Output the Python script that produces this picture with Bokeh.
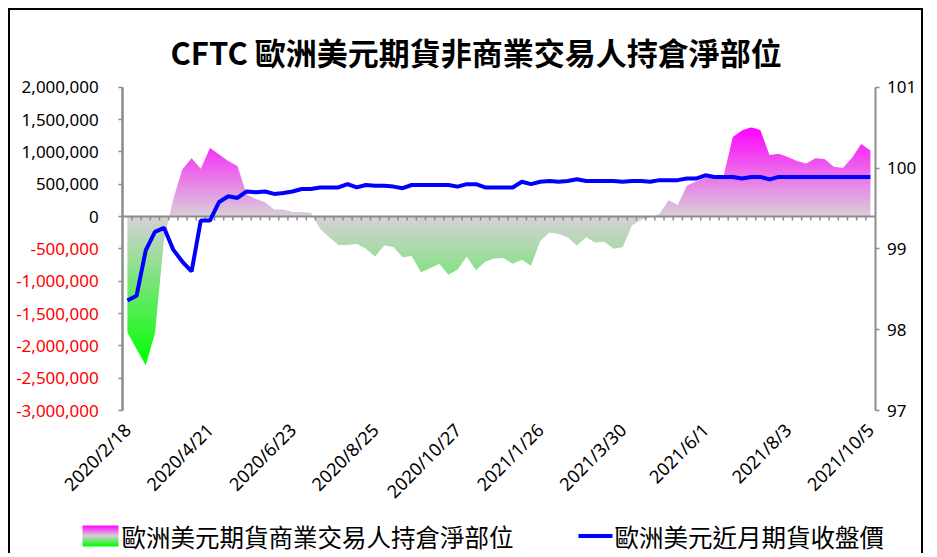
import numpy as np
from bokeh.plotting import figure
from bokeh.models import (Range1d, LinearAxis, FixedTicker, CustomJSTickFormatter)
from bokeh.core.properties import value
from bokeh.embed import file_html
from bokeh.resources import INLINE

# ---------------- data ----------------
title_text = "CFTC 歐洲美元期貨非商業交易人持倉淨部位"
area_name = "歐洲美元期貨商業交易人持倉淨部位"
line_name = "歐洲美元近月期貨收盤價"

dates = [
    "2020/2/18", "2020/2/25", "2020/3/3", "2020/3/10", "2020/3/17", "2020/3/24", "2020/3/31",
    "2020/4/7", "2020/4/14", "2020/4/21", "2020/4/28", "2020/5/5", "2020/5/12", "2020/5/19",
    "2020/5/26", "2020/6/2", "2020/6/9", "2020/6/16", "2020/6/23", "2020/6/30", "2020/7/7",
    "2020/7/14", "2020/7/21", "2020/7/28", "2020/8/4", "2020/8/11", "2020/8/18", "2020/8/25",
    "2020/9/1", "2020/9/8", "2020/9/15", "2020/9/22", "2020/9/29", "2020/10/6", "2020/10/13",
    "2020/10/20", "2020/10/27", "2020/11/10", "2020/11/17", "2020/12/1", "2020/12/8",
    "2020/12/15", "2021/1/5", "2021/1/12", "2021/1/19", "2021/1/26", "2021/2/2", "2021/2/9",
    "2021/2/16", "2021/2/23", "2021/3/2", "2021/3/9", "2021/3/16", "2021/3/23", "2021/3/30",
    "2021/4/6", "2021/4/13", "2021/4/20", "2021/4/27", "2021/5/4", "2021/5/11", "2021/5/18",
    "2021/5/25", "2021/6/1", "2021/6/8", "2021/6/15", "2021/6/22", "2021/6/29", "2021/7/6",
    "2021/7/13", "2021/7/20", "2021/7/27", "2021/8/3", "2021/8/10", "2021/8/17", "2021/8/24",
    "2021/8/31", "2021/9/7", "2021/9/14", "2021/9/21", "2021/9/28", "2021/10/5",
]

net_position = [
    -1790000, -2050000, -2300000, -1810000, -350000, 270000, 730000, 900000, 740000, 1060000,
    960000, 860000, 780000, 340000, 270000, 220000, 110000, 110000, 70000, 70000,
    60000, -190000, -320000, -440000, -440000, -420000, -500000, -620000, -450000, -470000,
    -630000, -610000, -860000, -800000, -730000, -900000, -820000, -620000, -830000, -700000,
    -650000, -640000, -730000, -670000, -760000, -380000, -250000, -270000, -320000, -450000,
    -320000, -400000, -390000, -500000, -470000, -140000, -50000, -10000, 40000, 250000,
    180000, 480000, 540000, 600000, 620000, 630000, 1230000, 1330000, 1380000, 1340000,
    950000, 970000, 920000, 860000, 820000, 900000, 890000, 770000, 750000, 910000,
    1120000, 1020000,
]

close_price = [
    98.36, 98.42, 98.98, 99.21, 99.26, 98.99, 98.84, 98.72, 99.35, 99.35,
    99.58, 99.65, 99.63, 99.71, 99.70, 99.71, 99.68, 99.69, 99.71, 99.74,
    99.74, 99.76, 99.76, 99.76, 99.80, 99.76, 99.79, 99.78, 99.78, 99.77,
    99.75, 99.79, 99.79, 99.79, 99.79, 99.79, 99.77, 99.80, 99.80, 99.76,
    99.76, 99.76, 99.76, 99.83, 99.80, 99.83, 99.84, 99.83, 99.84, 99.86,
    99.84, 99.84, 99.84, 99.84, 99.83, 99.84, 99.84, 99.83, 99.85, 99.85,
    99.85, 99.87, 99.87, 99.91, 99.89, 99.89, 99.89, 99.87, 99.89, 99.89,
    99.86, 99.89, 99.89, 99.89, 99.89, 99.89, 99.89, 99.89, 99.89, 99.89,
    99.89, 99.89,
]

left_ticks = [-3000000, -2500000, -2000000, -1500000, -1000000, -500000, 0,
              500000, 1000000, 1500000, 2000000]
right_ticks = [97, 98, 99, 100, 101]
label_step = 9

# ---------------- styling / geometry ----------------
FONT = "Noto Sans CJK TC"
TICK_FONT = "Noto Sans"
TICK_SIZE = "17px"
DATE_SIZE = "18px"
AXIS_GREY = "#8c8c8c"
MAGENTA = (255, 0, 255)
MID = (217, 208, 217)
GREEN = (0, 255, 0)
W, H = 915, 545                                     # canvas size (inside the css border)
FR_L, FR_R, FR_T, FR_B = 112.3, 864.5, 76.7, 400.0  # plotting-area box on the canvas (px)


def grad_color(t):
    """t = 1 -> magenta, 0 -> mid grey, -1 -> green"""
    if t >= 0:
        return [MID[k] + (MAGENTA[k] - MID[k]) * t for k in range(3)]
    return [MID[k] + (GREEN[k] - MID[k]) * (-t) for k in range(3)]


def rgba_column(ts, width=4):
    arr = np.zeros((len(ts), width, 4), dtype=np.uint8)
    for r, t in enumerate(ts):
        c = grad_color(t)
        arr[r, :, 0] = int(round(c[0]))
        arr[r, :, 1] = int(round(c[1]))
        arr[r, :, 2] = int(round(c[2]))
        arr[r, :, 3] = 255
    return arr.view(dtype=np.uint32).reshape((len(ts), width))


def extend(lo, hi, px_lo, px_hi, px_total_lo, px_total_hi):
    """data range whose [lo, hi] lands on [px_lo, px_hi] of a canvas spanning px_total."""
    k = (hi - lo) / (px_hi - px_lo)
    return lo - (px_lo - px_total_lo) * k, hi + (px_total_hi - px_hi) * k


n = len(dates)
x = np.arange(n)
d = np.array(net_position, dtype=float)

xr = extend(-0.5, n - 0.5, FR_L, FR_R, 0, W)
yr = extend(left_ticks[0], left_ticks[-1], H - FR_B, H - FR_T, 0, H)
pr = extend(right_ticks[0], right_ticks[-1], H - FR_B, H - FR_T, 0, H)

p = figure(width=W, height=H, output_backend="svg", toolbar_location=None,
           x_range=Range1d(*xr), y_range=Range1d(*yr),
           x_axis_location=None, y_axis_location=None,
           min_border=0, min_border_left=0, min_border_right=0,
           min_border_top=0, min_border_bottom=0,
           styles={"margin-left": "8px", "margin-top": "8px",
                   "border-left": "2px solid black", "border-top": "2px solid black",
                   "border-right": "2px solid black"})
p.title.visible = False
p.extra_y_ranges = {"price": Range1d(*pr), "px_y": Range1d(0, H)}
p.extra_x_ranges = {"px_x": Range1d(0, W)}
p.outline_line_color = None
p.grid.visible = False

# ---- gradient-filled area: gradient image masked by white areas ----
dmin, dmax = d.min(), d.max()
vals = np.linspace(dmin, dmax, 600)
ts = [v / dmax if v >= 0 else -(v / dmin) for v in vals]
p.image_rgba(image=[rgba_column(ts)], x=0, y=dmin, dw=n - 1, dh=dmax - dmin)

# outline of the area with exact zero crossings; masks reach a little past both ends
xs, ds = [x[0] - 0.5], [d[0]]
for i in range(n - 1):
    xs.append(x[i]); ds.append(d[i])
    if d[i] * d[i + 1] < 0:
        xs.append(x[i] + d[i] / (d[i] - d[i + 1])); ds.append(0.0)
xs.append(x[-1]); ds.append(d[-1])
xs.append(x[-1] + 0.5); ds.append(d[-1])
xs = np.array(xs); ds = np.array(ds)
m = len(xs)
p.varea(x=xs, y1=np.maximum(ds, 0), y2=np.full(m, left_ticks[-1]), fill_color="white")
p.varea(x=xs, y1=np.full(m, left_ticks[0]), y2=np.minimum(ds, 0), fill_color="white")

# zero axis line with category tick marks
p.segment(x0=[-0.5], y0=[0], x1=[n - 0.5], y1=[0], line_color=AXIS_GREY, line_width=2)
tick_len = (left_ticks[-1] - left_ticks[0]) / (FR_B - FR_T) * 4
bx = x[1:] - 0.5
p.segment(x0=bx, y0=np.zeros(len(bx)), x1=bx, y1=np.full(len(bx), -tick_len),
          line_color=AXIS_GREY, line_width=1.5)

# price line
p.line(x, close_price, y_range_name="price", line_color="#0000ff", line_width=4)

# ---- title ----
p.text(x=[160], y=[H - 41], text=[title_text], x_range_name="px_x", y_range_name="px_y",
       text_font=value(FONT), text_font_size="31px", text_font_style="bold",
       text_align="left", text_baseline="middle", text_color="#000000")

# ---- axes (pinned to the plotting-area edges) ----
def style_axis(ax, color="black", standoff=20, line=True, ticks=True, size=TICK_SIZE):
    ax.axis_line_color = AXIS_GREY if line else None
    ax.axis_line_width = 2
    ax.major_tick_line_color = AXIS_GREY if ticks else None
    ax.major_tick_line_width = 1.5
    ax.major_tick_out = 4
    ax.major_tick_in = 0
    ax.minor_tick_line_color = None
    ax.major_label_text_font = TICK_FONT
    ax.major_label_text_font_size = size
    ax.major_label_text_color = color
    ax.major_label_standoff = standoff


fmt = CustomJSTickFormatter(code="return tick.toLocaleString('en-US');")

xa = LinearAxis(fixed_location=left_ticks[0], ticker=FixedTicker(ticks=list(range(0, n, label_step))))
xa.major_label_overrides = {i: dates[i] for i in range(0, n, label_step)}
xa.major_label_orientation = np.pi / 4
style_axis(xa, standoff=12, line=False, ticks=False, size=DATE_SIZE)
p.add_layout(xa, "below")

ya_pos = LinearAxis(fixed_location=-0.5, bounds=(left_ticks[0], left_ticks[-1]),
                    ticker=FixedTicker(ticks=[v for v in left_ticks if v >= 0]), formatter=fmt)
style_axis(ya_pos, color="black")
p.add_layout(ya_pos, "left")

ya_neg = LinearAxis(fixed_location=-0.5, bounds=(left_ticks[0], left_ticks[-1]),
                    ticker=FixedTicker(ticks=[v for v in left_ticks if v < 0]), formatter=fmt)
style_axis(ya_neg, color="#ff0000")
p.add_layout(ya_neg, "left")

ra = LinearAxis(fixed_location=n - 0.5, y_range_name="price", bounds=(right_ticks[0], right_ticks[-1]),
                ticker=FixedTicker(ticks=right_ticks))
style_axis(ra, standoff=8)
p.add_layout(ra, "right")

# ---- legend ----
LEG_Y = 19.5
sw_ts = list(np.linspace(-1, 1, 42))
p.image_rgba(image=[rgba_column(sw_ts)], x=72, y=LEG_Y - 10.5, dw=36, dh=21,
             x_range_name="px_x", y_range_name="px_y")
p.text(x=[111], y=[LEG_Y], text=[area_name], x_range_name="px_x", y_range_name="px_y",
       text_font=value(FONT), text_font_size="24.5px", text_baseline="middle",
       text_align="left", text_color="black")
p.segment(x0=[568], y0=[LEG_Y], x1=[602], y1=[LEG_Y], x_range_name="px_x", y_range_name="px_y",
          line_color="#0000ff", line_width=4)
p.text(x=[604], y=[LEG_Y], text=[line_name], x_range_name="px_x", y_range_name="px_y",
       text_font=value(FONT), text_font_size="24.5px", text_baseline="middle",
       text_align="left", text_color="black")

open("out.html", "w").write(file_html(p, INLINE))
